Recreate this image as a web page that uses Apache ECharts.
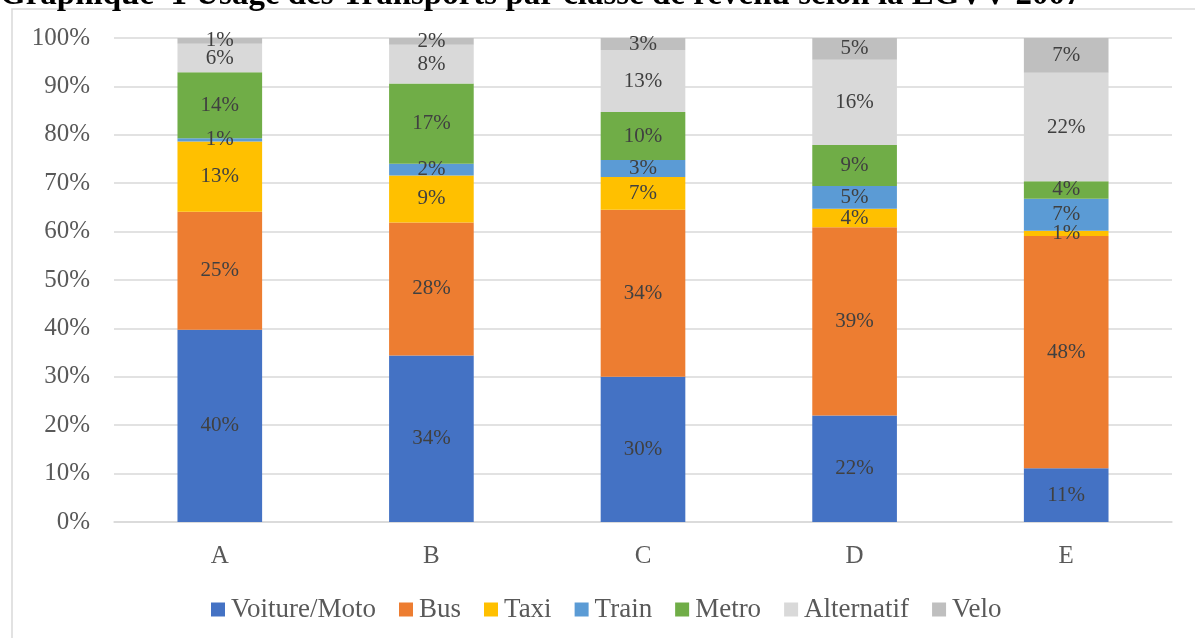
<!DOCTYPE html>
<html>
<head>
<meta charset="utf-8">
<script src="https://cdn.jsdelivr.net/npm/echarts@6/dist/echarts.min.js"></script>
<style>
html,body{margin:0;padding:0;background:#fff;}
#chart{width:1195px;height:638px;}
</style>
</head>
<body>
<div id="chart"></div>
<script>
var titleText = 'Graphique  1 Usage des Transports par classe de revenu selon la EGVV 2007';
var categories = ['A', 'B', 'C', 'D', 'E'];
var seriesNames = ['Voiture/Moto', 'Bus', 'Taxi', 'Train', 'Metro', 'Alternatif', 'Velo'];
var colors = ['#4472C4', '#ED7D31', '#FFC000', '#5B9BD5', '#70AD47', '#D9D9D9', '#BFBFBF'];

// segment heights (percent of bar)
var voiture = [39.7, 34.4, 30.0, 22.0, 11.1];
var bus     = [24.4, 27.5, 34.5, 38.9, 48.0];
var taxi    = [14.5, 9.7, 6.8, 3.8, 1.1];
var train   = [0.7, 2.4, 3.5, 4.7, 6.6];
var metro   = [13.6, 16.6, 9.9, 8.5, 3.6];
var alternatif = [5.9, 8.0, 12.8, 17.6, 22.4];
var velo    = [1.2, 1.4, 2.5, 4.5, 7.2];

// data label texts as printed on the chart
var voitureLbl = ['40%', '34%', '30%', '22%', '11%'];
var busLbl     = ['25%', '28%', '34%', '39%', '48%'];
var taxiLbl    = ['13%', '9%', '7%', '4%', '1%'];
var trainLbl   = ['1%', '2%', '3%', '5%', '7%'];
var metroLbl   = ['14%', '17%', '10%', '9%', '4%'];
var alternatifLbl = ['6%', '8%', '13%', '16%', '22%'];
var veloLbl    = ['1%', '2%', '3%', '5%', '7%'];

var yTicks = [0, 10, 20, 30, 40, 50, 60, 70, 80, 90, 100];

var allValues = [voiture, bus, taxi, train, metro, alternatif, velo];
var allLabels = [voitureLbl, busLbl, taxiLbl, trainLbl, metroLbl, alternatifLbl, veloLbl];

var serif = '"Liberation Serif", "Times New Roman", serif';

var series = seriesNames.map(function (name, i) {
  return {
    name: name,
    type: 'bar',
    stack: 'total',
    barWidth: '40%',
    itemStyle: { color: colors[i] },
    label: {
      show: true,
      position: 'inside',
      color: '#404040',
      fontFamily: serif,
      fontSize: 21,
      formatter: function (p) { return allLabels[i][p.dataIndex]; }
    },
    emphasis: { disabled: true },
    data: allValues[i]
  };
});

var chart = echarts.init(document.getElementById('chart'), null, { renderer: 'canvas' });
chart.setOption({
  animation: false,
  backgroundColor: '#ffffff',
  graphic: [
    {
      type: 'rect',
      shape: { x: 12, y: 9, width: 1400, height: 800 },
      style: { fill: 'none', stroke: '#D9D9D9', lineWidth: 1.5 },
      z: -1
    },
    {
      type: 'text',
      left: 0,
      top: -21,
      style: {
        text: titleText,
        fontFamily: serif,
        fontWeight: 'bold',
        fontSize: 33,
        fill: '#000000'
      }
    }
  ],
  grid: { left: 114, right: 23, top: 38, bottom: 116, containLabel: false },
  legend: {
    bottom: 10,
    left: 206,
    icon: 'rect',
    itemWidth: 14,
    itemHeight: 14,
    itemGap: 23,
    textStyle: { fontFamily: serif, fontSize: 27, color: '#595959', padding: [0, 0, 0, 1] },
    data: seriesNames
  },
  xAxis: {
    type: 'category',
    data: categories,
    axisLine: { lineStyle: { color: '#D9D9D9', width: 1.5 } },
    axisTick: { show: false },
    axisLabel: { fontFamily: serif, fontSize: 25, color: '#595959', margin: 22 }
  },
  yAxis: {
    type: 'value',
    min: yTicks[0],
    max: yTicks[yTicks.length - 1],
    interval: 10,
    axisLine: { show: false },
    axisTick: { show: false },
    splitLine: { lineStyle: { color: '#D9D9D9', width: 1.5 } },
    axisLabel: { fontFamily: serif, fontSize: 25, color: '#595959', margin: 24, formatter: '{value}%' }
  },
  series: series
});
</script>
</body>
</html>
